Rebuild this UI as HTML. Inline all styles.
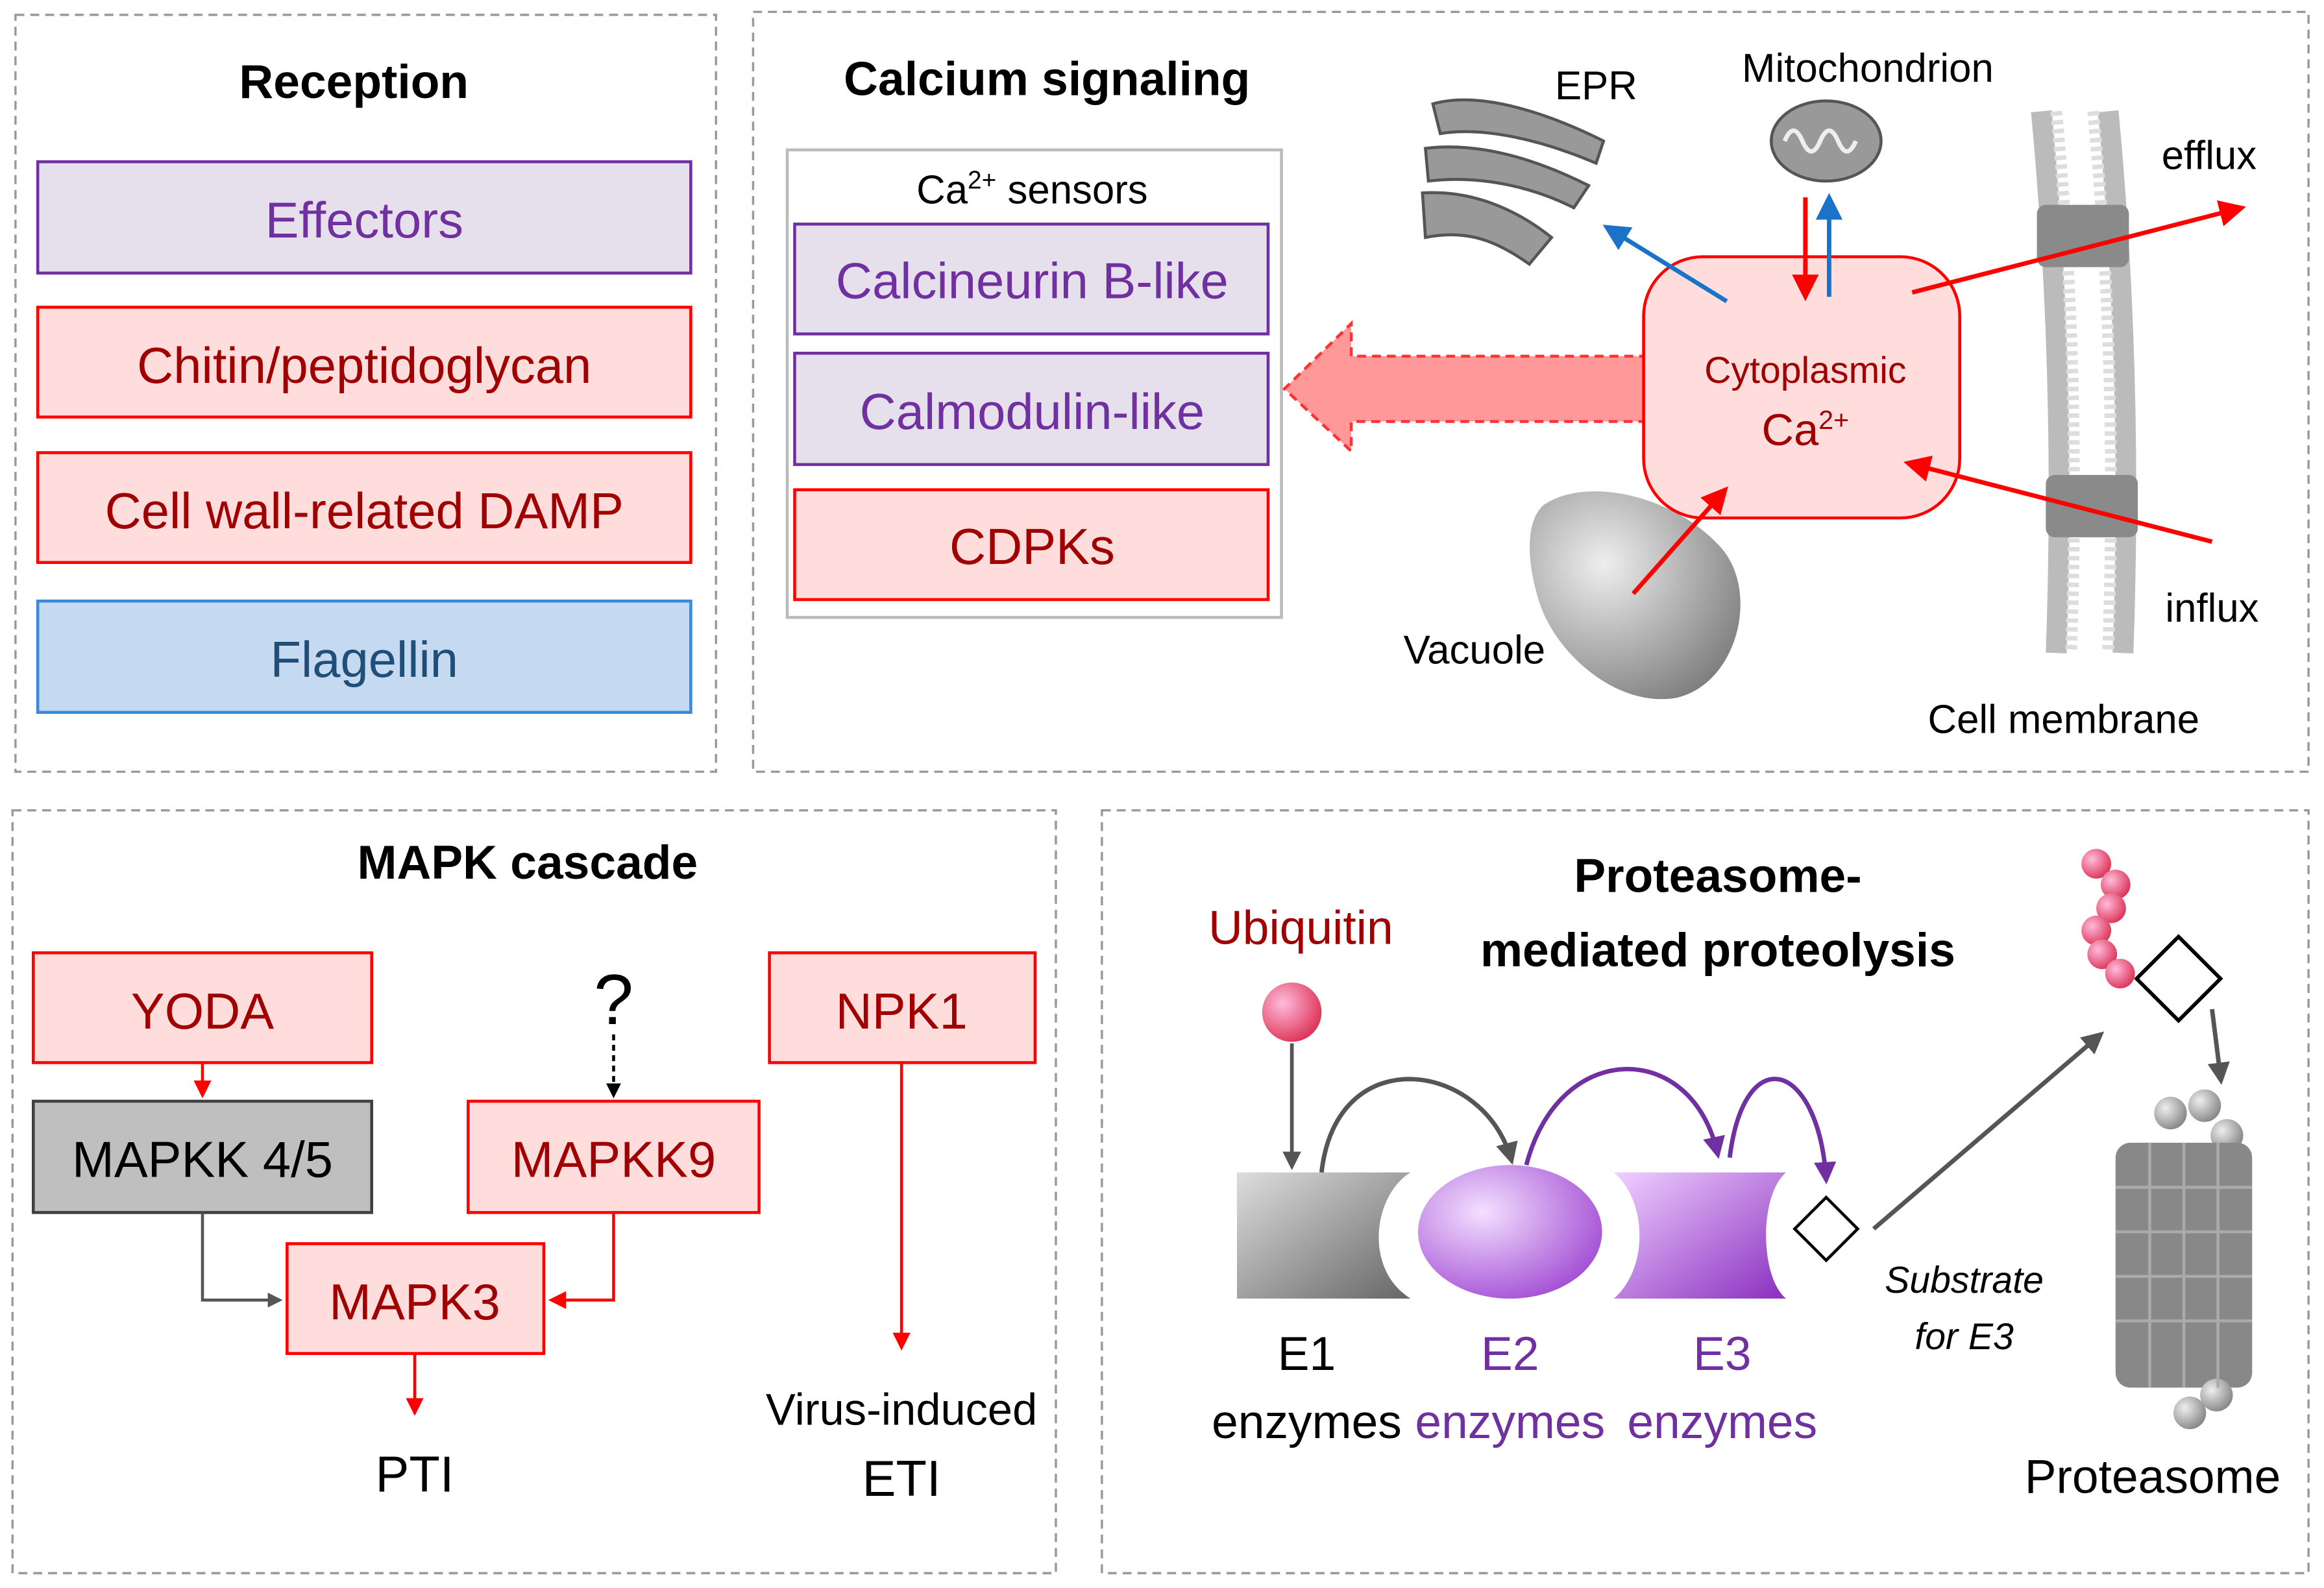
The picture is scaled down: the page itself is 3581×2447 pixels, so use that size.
<!DOCTYPE html>
<html><head><meta charset="utf-8"><style>
html,body{margin:0;padding:0;background:#fff;}
svg{display:block;}
text{font-family:"Liberation Sans Narrow","Liberation Sans",sans-serif;}
</style></head><body>
<svg width="3581" height="2447" viewBox="0 0 1565 1070" xmlns="http://www.w3.org/2000/svg">
<defs>
<marker id="ar" markerWidth="6" markerHeight="6" refX="5" refY="3" orient="auto" markerUnits="strokeWidth"><path d="M0,0 L6,3 L0,6 z" fill="#f00"/></marker>
<marker id="ab" markerWidth="6" markerHeight="6" refX="5" refY="3" orient="auto" markerUnits="strokeWidth"><path d="M0,0 L6,3 L0,6 z" fill="#1a73c8"/></marker>
<marker id="ag" markerWidth="5" markerHeight="5" refX="4" refY="2.5" orient="auto" markerUnits="strokeWidth"><path d="M0,0 L5,2.5 L0,5 z" fill="#555"/></marker>
<marker id="ak" markerWidth="5" markerHeight="5" refX="4" refY="2.5" orient="auto" markerUnits="strokeWidth"><path d="M0,0 L5,2.5 L0,5 z" fill="#000"/></marker>
<marker id="ap" markerWidth="5" markerHeight="5" refX="4" refY="2.5" orient="auto" markerUnits="strokeWidth"><path d="M0,0 L5,2.5 L0,5 z" fill="#7030a0"/></marker>
<radialGradient id="gp" cx="0.35" cy="0.35" r="0.7"><stop offset="0" stop-color="#fbd"/><stop offset="1" stop-color="#d35"/></radialGradient>
<radialGradient id="gg" cx="0.35" cy="0.35" r="0.8"><stop offset="0" stop-color="#eee"/><stop offset="1" stop-color="#777"/></radialGradient>
<radialGradient id="gv" cx="0.35" cy="0.35" r="0.8"><stop offset="0" stop-color="#f3e0ff"/><stop offset="1" stop-color="#9b3fd0"/></radialGradient>
<linearGradient id="g1" x1="0" y1="0" x2="1" y2="1"><stop offset="0" stop-color="#ddd"/><stop offset="1" stop-color="#666"/></linearGradient>
<linearGradient id="g3" x1="0" y1="0" x2="1" y2="1"><stop offset="0" stop-color="#f0d0ff"/><stop offset="1" stop-color="#8a2fc0"/></linearGradient>
</defs>

<!-- panels -->
<g fill="none" stroke="#999" stroke-width="1.5" stroke-dasharray="6,4">
<rect x="10" y="10" width="472" height="510"/>
<rect x="507" y="8" width="1048" height="512"/>
<rect x="8" y="546" width="703" height="514"/>
<rect x="742" y="546" width="813" height="514"/>
</g>

<!-- Reception -->
<text x="238" y="66" font-size="32" font-weight="bold" text-anchor="middle" font-family="Liberation Sans">Reception</text>
<rect x="25" y="109" width="440" height="75" fill="#e6e0ec" stroke="#7030a0" stroke-width="2"/>
<text x="245" y="160" font-size="34" fill="#7030a0" text-anchor="middle">Effectors</text>
<rect x="25" y="207" width="440" height="74" fill="#fdd" stroke="#f00" stroke-width="2"/>
<text x="245" y="258" font-size="34" fill="#a00000" text-anchor="middle">Chitin/peptidoglycan</text>
<rect x="25" y="305" width="440" height="74" fill="#fdd" stroke="#f00" stroke-width="2"/>
<text x="245" y="356" font-size="34" fill="#a00000" text-anchor="middle">Cell wall-related DAMP</text>
<rect x="25" y="405" width="440" height="75" fill="#c5d9f1" stroke="#3b8ad9" stroke-width="2"/>
<text x="245" y="456" font-size="34" fill="#1f4e79" text-anchor="middle">Flagellin</text>

<!-- Calcium -->
<text x="705" y="64" font-size="32" font-weight="bold" text-anchor="middle" font-family="Liberation Sans">Calcium signaling</text>
<rect x="530" y="101" width="333" height="315" fill="#fff" stroke="#bbb" stroke-width="2"/>
<text x="695" y="137" font-size="27" text-anchor="middle">Ca<tspan font-size="17" dy="-10">2+</tspan><tspan dy="10"> sensors</tspan></text>
<rect x="535" y="151" width="319" height="74" fill="#e6e0ec" stroke="#7030a0" stroke-width="2"/>
<text x="695" y="201" font-size="34" fill="#7030a0" text-anchor="middle">Calcineurin B-like</text>
<rect x="535" y="238" width="319" height="75" fill="#e6e0ec" stroke="#7030a0" stroke-width="2"/>
<text x="695" y="289" font-size="34" fill="#7030a0" text-anchor="middle">Calmodulin-like</text>
<rect x="535" y="330" width="319" height="74" fill="#fdd" stroke="#f00" stroke-width="2"/>
<text x="695" y="380" font-size="34" fill="#a00000" text-anchor="middle">CDPKs</text>
<path d="M1110,240 L910,240 L910,218 L865,262 L910,304 L910,284 L1110,284 z" fill="#f99" stroke="#f33" stroke-width="2" stroke-dasharray="6,4"/>

<!-- membrane -->
<g>
<path d="M1375,75 C1385,180 1390,300 1385,440" stroke="#bbb" stroke-width="14" fill="none"/>
<path d="M1420,75 C1430,180 1435,300 1430,440" stroke="#bbb" stroke-width="14" fill="none"/>
<path d="M1385,75 C1395,180 1400,300 1395,440" stroke="#ddd" stroke-width="8" fill="none" stroke-dasharray="3,3"/>
<path d="M1410,75 C1420,180 1425,300 1420,440" stroke="#ddd" stroke-width="8" fill="none" stroke-dasharray="3,3"/>
<rect x="1372" y="138" width="62" height="42" rx="6" fill="#8a8a8a"/>
<rect x="1378" y="320" width="62" height="42" rx="6" fill="#8a8a8a"/>
</g>
<!-- EPR -->
<g fill="#999" stroke="#555" stroke-width="2">
<path d="M965,70 C1000,60 1050,80 1080,95 L1075,110 C1040,95 1000,85 970,90 z"/>
<path d="M960,100 C1000,95 1040,110 1070,125 L1060,140 C1030,125 995,118 962,122 z"/>
<path d="M958,130 C990,128 1020,140 1045,160 L1030,178 C1005,160 985,155 960,160 z"/>
</g>
<text x="1075" y="67" font-size="27" text-anchor="middle">EPR</text>
<!-- mito -->
<ellipse cx="1230" cy="95" rx="37" ry="27" fill="#999" stroke="#555" stroke-width="2"/>
<path d="M1202,95 q6,-14 12,0 q6,14 12,0 q6,-14 12,0 q6,14 12,0" stroke="#eee" stroke-width="3" fill="none"/>
<text x="1258" y="55" font-size="27" text-anchor="middle">Mitochondrion</text>
<!-- vacuole -->
<path d="M1040,340 C1070,320 1130,335 1160,370 C1185,400 1170,460 1130,470 C1090,478 1045,440 1035,400 C1028,375 1028,350 1040,340 z" fill="url(#gg)"/>
<text x="993" y="447" font-size="27" text-anchor="middle">Vacuole</text>
<rect x="1107" y="173" width="213" height="176" rx="40" fill="#fdd" stroke="#f00" stroke-width="2"/>
<text x="1216" y="258" font-size="25" fill="#a00000" text-anchor="middle">Cytoplasmic</text>
<text x="1216" y="300" font-size="30" fill="#a00000" text-anchor="middle">Ca<tspan font-size="18" dy="-11">2+</tspan></text>
<text x="1488" y="114" font-size="27" text-anchor="middle">efflux</text>
<text x="1490" y="419" font-size="27" text-anchor="middle">influx</text>
<text x="1390" y="494" font-size="27" text-anchor="middle">Cell membrane</text>
<g stroke-width="3" fill="none">
<line x1="1163" y1="203" x2="1082" y2="153" stroke="#1a73c8" marker-end="url(#ab)"/>
<line x1="1216" y1="133" x2="1216" y2="200" stroke="#f00" marker-end="url(#ar)"/>
<line x1="1232" y1="200" x2="1232" y2="133" stroke="#1a73c8" marker-end="url(#ab)"/>
<line x1="1288" y1="197" x2="1510" y2="140" stroke="#f00" marker-end="url(#ar)"/>
<line x1="1490" y1="365" x2="1285" y2="312" stroke="#f00" marker-end="url(#ar)"/>
<line x1="1100" y1="400" x2="1162" y2="330" stroke="#f00" marker-end="url(#ar)"/>
</g>

<!-- MAPK -->
<text x="355" y="592" font-size="32" font-weight="bold" text-anchor="middle" font-family="Liberation Sans">MAPK cascade</text>
<rect x="22" y="642" width="228" height="74" fill="#fdd" stroke="#f00" stroke-width="2"/>
<text x="136" y="693" font-size="34" fill="#a00000" text-anchor="middle">YODA</text>
<rect x="22" y="742" width="228" height="75" fill="#bfbfbf" stroke="#404040" stroke-width="2"/>
<text x="136" y="793" font-size="34" text-anchor="middle">MAPKK 4/5</text>
<rect x="315" y="742" width="196" height="75" fill="#fdd" stroke="#f00" stroke-width="2"/>
<text x="413" y="793" font-size="34" fill="#a00000" text-anchor="middle">MAPKK9</text>
<rect x="193" y="838" width="173" height="74" fill="#fdd" stroke="#f00" stroke-width="2"/>
<text x="279" y="889" font-size="34" fill="#a00000" text-anchor="middle">MAPK3</text>
<rect x="518" y="642" width="179" height="74" fill="#fdd" stroke="#f00" stroke-width="2"/>
<text x="607" y="693" font-size="34" fill="#a00000" text-anchor="middle">NPK1</text>
<text x="413" y="690" font-size="48" text-anchor="middle">?</text>
<g stroke-width="2" fill="none">
<line x1="136" y1="716" x2="136" y2="738" stroke="#f00" marker-end="url(#ar)"/>
<line x1="413" y1="697" x2="413" y2="738" stroke="#000" stroke-dasharray="4,3" marker-end="url(#ak)"/>
<polyline points="136,817 136,876 188,876" stroke="#555" marker-end="url(#ag)"/>
<polyline points="413,817 413,876 371,876" stroke="#f00" marker-end="url(#ar)"/>
<line x1="279" y1="912" x2="279" y2="952" stroke="#f00" marker-end="url(#ar)"/>
<line x1="607" y1="716" x2="607" y2="908" stroke="#f00" marker-end="url(#ar)"/>
</g>
<text x="279" y="1005" font-size="34" text-anchor="middle">PTI</text>
<text x="607" y="960" font-size="30" text-anchor="middle">Virus-induced</text>
<text x="607" y="1008" font-size="34" text-anchor="middle">ETI</text>

<!-- Proteasome -->
<text x="1157" y="601" font-size="32" font-weight="bold" text-anchor="middle" font-family="Liberation Sans">Proteasome-</text>
<text x="1157" y="651" font-size="32" font-weight="bold" text-anchor="middle" font-family="Liberation Sans">mediated proteolysis</text>
<text x="876" y="636" font-size="32" fill="#a00000" text-anchor="middle">Ubiquitin</text>
<circle cx="870" cy="682" r="20" fill="url(#gp)"/>
<line x1="870" y1="703" x2="870" y2="786" stroke="#555" stroke-width="2.5" marker-end="url(#ag)"/>
<path d="M833,790 L950,790 C925,805 918,855 950,875 L833,875 z" fill="url(#g1)"/>
<ellipse cx="1017" cy="830" rx="62" ry="45" fill="url(#gv)"/>
<path d="M1087,790 L1203,790 C1185,805 1185,860 1203,875 L1087,875 C1110,855 1110,810 1087,790 z" fill="url(#g3)"/>
<rect x="1215" y="813" width="30" height="30" transform="rotate(45 1230 828)" fill="#fff" stroke="#000" stroke-width="2"/>
<g fill="none" stroke-width="3">
<path d="M890,790 C900,700 1000,715 1018,782" stroke="#555" marker-end="url(#ag)"/>
<path d="M1028,785 C1050,700 1140,700 1157,778" stroke="#7030a0" marker-end="url(#ap)"/>
<path d="M1165,780 C1175,700 1225,715 1230,795" stroke="#7030a0" marker-end="url(#ap)"/>
<line x1="1262" y1="828" x2="1415" y2="697" stroke="#555" marker-end="url(#ag)"/>
<line x1="1490" y1="680" x2="1496" y2="728" stroke="#555" marker-end="url(#ag)"/>
</g>
<text x="880" y="923" font-size="32" text-anchor="middle">E1</text>
<text x="880" y="969" font-size="32" text-anchor="middle">enzymes</text>
<text x="1017" y="923" font-size="32" fill="#7030a0" text-anchor="middle">E2</text>
<text x="1017" y="969" font-size="32" fill="#7030a0" text-anchor="middle">enzymes</text>
<text x="1160" y="923" font-size="32" fill="#7030a0" text-anchor="middle">E3</text>
<text x="1160" y="969" font-size="32" fill="#7030a0" text-anchor="middle">enzymes</text>
<text x="1323" y="871" font-size="25" font-style="italic" text-anchor="middle">Substrate</text>
<text x="1323" y="909" font-size="25" font-style="italic" text-anchor="middle">for E3</text>
<g fill="url(#gp)">
<circle cx="1412" cy="582" r="10"/><circle cx="1425" cy="596" r="10"/><circle cx="1422" cy="612" r="10"/>
<circle cx="1412" cy="627" r="10"/><circle cx="1416" cy="643" r="10"/><circle cx="1428" cy="656" r="10"/>
</g>
<rect x="1448" y="638" width="40" height="40" transform="rotate(45 1466 658)" fill="#fff" stroke="#000" stroke-width="2.5"/>
<g fill="url(#gg)">
<circle cx="1462" cy="750" r="11"/><circle cx="1485" cy="745" r="11"/><circle cx="1500" cy="765" r="11"/>
<rect x="1425" y="770" width="92" height="165" rx="10" fill="#888"/>
<circle cx="1475" cy="952" r="11"/><circle cx="1493" cy="940" r="11"/>
</g>
<g fill="none" stroke="#aaa" stroke-width="2">
<line x1="1425" y1="800" x2="1517" y2="800"/><line x1="1425" y1="830" x2="1517" y2="830"/>
<line x1="1425" y1="860" x2="1517" y2="860"/><line x1="1425" y1="890" x2="1517" y2="890"/>
<line x1="1448" y1="770" x2="1448" y2="935"/><line x1="1471" y1="770" x2="1471" y2="935"/><line x1="1494" y1="770" x2="1494" y2="935"/>
</g>
<text x="1450" y="1006" font-size="32" text-anchor="middle">Proteasome</text>
</svg>
</body></html>
